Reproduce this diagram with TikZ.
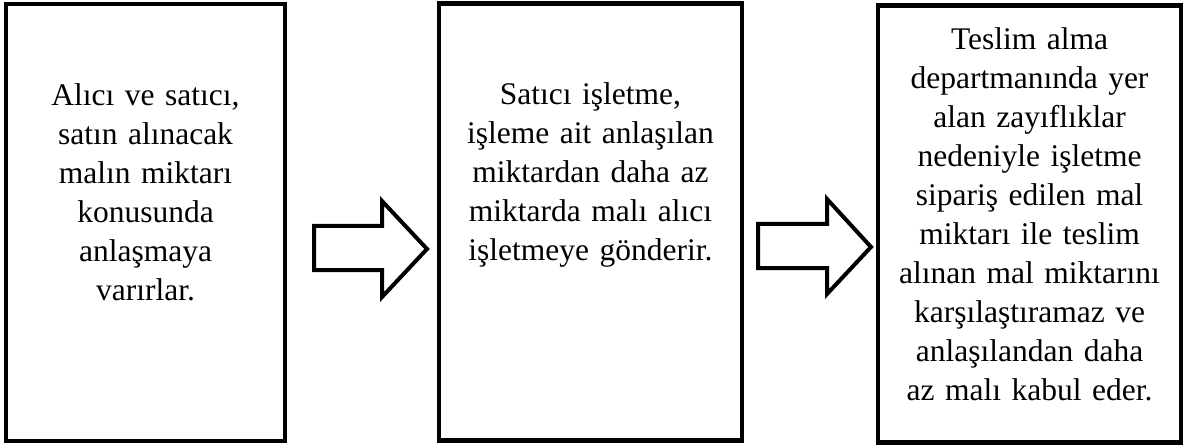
\documentclass[tikz,border=0pt]{standalone}
\usepackage{fontspec}
\setmainfont{Liberation Serif}
\begin{document}
\begin{tikzpicture}[x=1pt,y=-1pt,
  stage/.style={draw, line width=4.5pt, inner sep=0pt, minimum height=437pt},
  stagetext/.style={align=center, text width=290pt, anchor=base, inner sep=0pt,
    font=\fontsize{31.5}{39}\selectfont},
  blockarrow/.style={draw, line width=4pt, miter limit=10}]

\useasboundingbox (0,0) rectangle (1185,446);

% stages
\node[stage, minimum width=279pt] (s1) at (145.5,222.5) {};
\node[stage, minimum width=303pt] (s2) at (590.5,222) {};
\node[stage, minimum width=303pt] (s3) at (1029.5,224) {};

\node[stagetext] (t1) at (s1.center |- 0,106) {Alıcı ve satıcı,\\ satın alınacak\\ malın miktarı\\ konusunda\\ anlaşmaya\\ varırlar.};
\node[stagetext] (t2) at (s2.center |- 0,105) {Satıcı işletme,\\ işleme ait anlaşılan\\ miktardan daha az\\ miktarda malı alıcı\\ işletmeye gönderir.};
\node[stagetext] (t3) at (s3.center |- 0,50) {Teslim alma\\ departmanında yer\\ alan zayıflıklar\\ nedeniyle işletme\\ sipariş edilen mal\\ miktarı ile teslim\\ alınan mal miktarını\\ karşılaştıramaz ve\\ anlaşılandan daha\\ az malı kabul eder.};

% block arrows between the stages
\coordinate (a1) at (314,226);
\coordinate (a2) at (758,224);

\draw[blockarrow] (a1) -- ++(68,0) -- ++(0,-25) -- ++(45,48) -- ++(-45,48)
  -- ++(0,-27) -- ++(-68,0) -- cycle;
\draw[blockarrow] (a2) -- ++(69,0) -- ++(0,-25) -- ++(44,48) -- ++(-44,47)
  -- ++(0,-26) -- ++(-69,0) -- cycle;

\end{tikzpicture}
\end{document}
